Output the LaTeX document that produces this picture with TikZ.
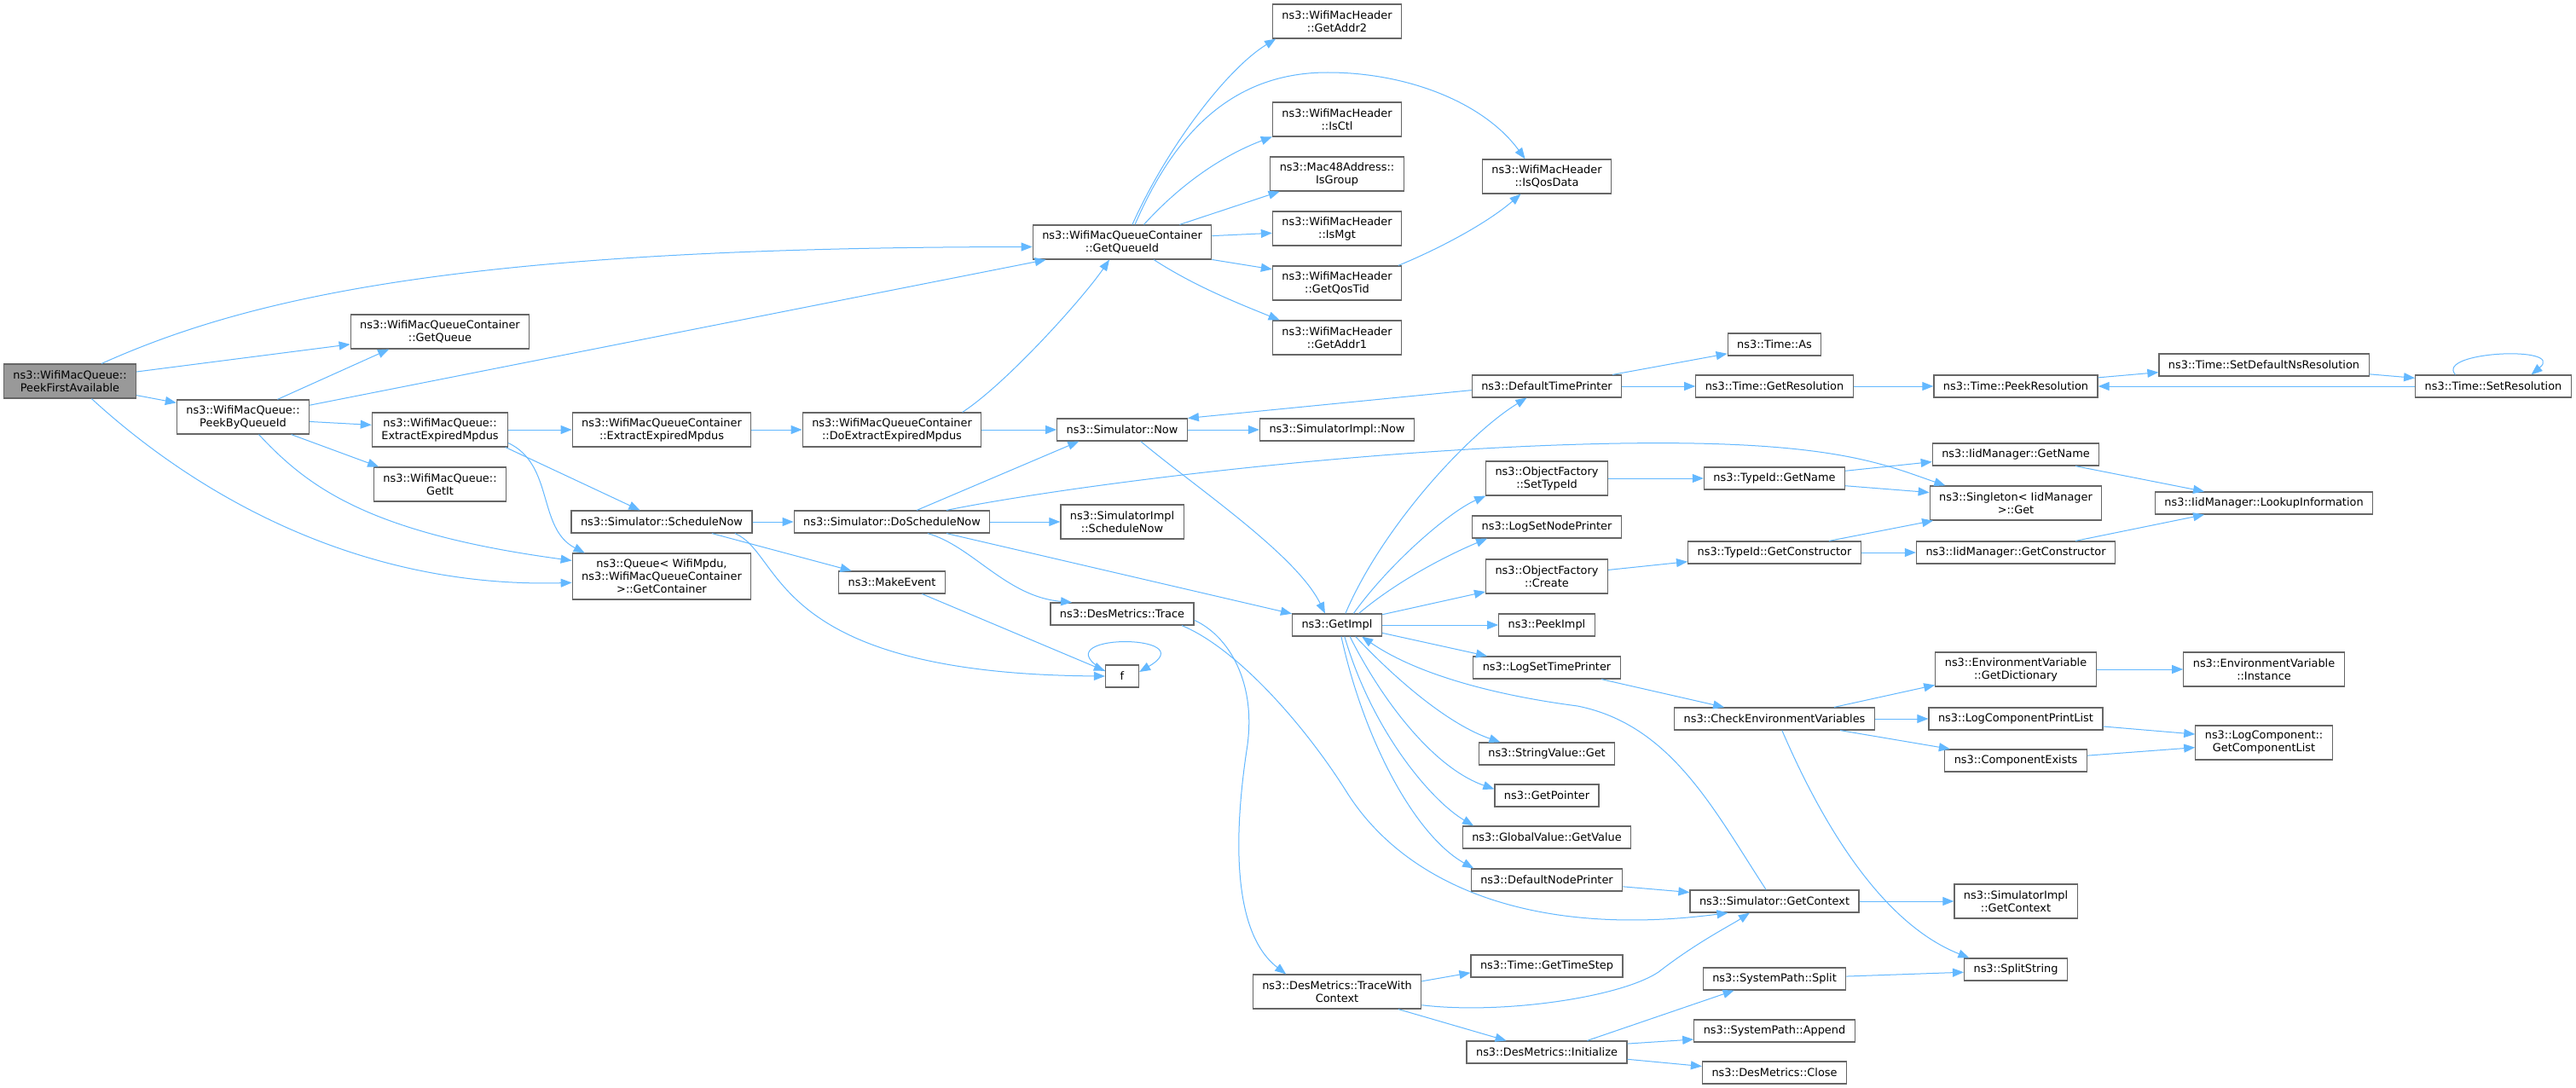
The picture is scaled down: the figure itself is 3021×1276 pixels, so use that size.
\documentclass[tikz,border=0pt]{standalone}
\usepackage{fontspec}
\newfontfamily\dejavu{DejaVu Sans}
\usetikzlibrary{arrows.meta}
\definecolor{callblue}{HTML}{63B8FF}
\definecolor{boxgray}{HTML}{666666}
\definecolor{rootgray}{HTML}{999999}

\begin{document}
\begin{tikzpicture}[x=1pt,y=-1pt,
  fn/.style={draw=boxgray,line width=1.2pt,fill=white,align=center,inner xsep=11pt,inner ysep=0pt,
    minimum width=39pt,minimum height=26pt,font=\dejavu\fontsize{12.9pt}{15pt}\selectfont},
  two/.style={fn,minimum height=40pt},
  three/.style={fn,minimum height=54pt},
  call/.style={draw=callblue,line width=1pt,-{Triangle[length=13pt,width=10pt]}}]
  \fill[white] (0,0) rectangle (3021,1276);
  \useasboundingbox (0,0) rectangle (3021,1276);

  \node[two,fill=rootgray] (pfa) at (82,447) {ns3::WifiMacQueue::\\PeekFirstAvailable};
  \node[two] (pbq) at (285,489) {ns3::WifiMacQueue::\\PeekByQueueId};
  \node[two] (gq) at (516,389) {ns3::WifiMacQueueContainer\\::GetQueue};
  \node[two] (wex) at (516,504) {ns3::WifiMacQueue::\\ExtractExpiredMpdus};
  \node[two] (getit) at (516,568) {ns3::WifiMacQueue::\\GetIt};
  \node[two] (cex) at (776,504) {ns3::WifiMacQueueContainer\\::ExtractExpiredMpdus};
  \node[fn] (sn) at (776,612) {ns3::Simulator::ScheduleNow};
  \node[three] (gcont) at (776,676) {ns3::Queue< WifiMpdu,\\ns3::WifiMacQueueContainer\\>::GetContainer};
  \node[two] (dex) at (1046,504) {ns3::WifiMacQueueContainer\\::DoExtractExpiredMpdus};
  \node[fn] (dsn) at (1046,612) {ns3::Simulator::DoScheduleNow};
  \node[fn] (me) at (1046,683) {ns3::MakeEvent};
  \node[two] (gqi) at (1316,284) {ns3::WifiMacQueueContainer\\::GetQueueId};
  \node[fn] (snow) at (1316,504) {ns3::Simulator::Now};
  \node[two] (sisn) at (1316,612) {ns3::SimulatorImpl\\::ScheduleNow};
  \node[fn] (dmt) at (1316,720) {ns3::DesMetrics::Trace};
  \node[fn] (f) at (1316,793) {f};
  \node[two] (ga2) at (1568,25) {ns3::WifiMacHeader\\::GetAddr2};
  \node[two] (ictl) at (1568,140) {ns3::WifiMacHeader\\::IsCtl};
  \node[two] (igrp) at (1568,204) {ns3::Mac48Address::\\IsGroup};
  \node[two] (imgt) at (1568,268) {ns3::WifiMacHeader\\::IsMgt};
  \node[two] (gqt) at (1568,332) {ns3::WifiMacHeader\\::GetQosTid};
  \node[two] (ga1) at (1568,396) {ns3::WifiMacHeader\\::GetAddr1};
  \node[fn] (sinow) at (1568,504) {ns3::SimulatorImpl::Now};
  \node[fn] (gi) at (1568,733) {ns3::GetImpl};
  \node[two] (twc) at (1568,1163) {ns3::DesMetrics::TraceWith\\Context};
  \node[two] (iqd) at (1814,207) {ns3::WifiMacHeader\\::IsQosData};
  \node[fn] (dtp) at (1814,453) {ns3::DefaultTimePrinter};
  \node[two] (ofst) at (1814,561) {ns3::ObjectFactory\\::SetTypeId};
  \node[fn] (lsnp) at (1814,618) {ns3::LogSetNodePrinter};
  \node[two] (ofc) at (1814,676) {ns3::ObjectFactory\\::Create};
  \node[fn] (pkimpl) at (1814,733) {ns3::PeekImpl};
  \node[fn] (lstp) at (1814,783) {ns3::LogSetTimePrinter};
  \node[fn] (svg) at (1814,884) {ns3::StringValue::Get};
  \node[fn] (gp) at (1814,933) {ns3::GetPointer};
  \node[fn] (gvgv) at (1814,982) {ns3::GlobalValue::GetValue};
  \node[fn] (dnp) at (1814,1032) {ns3::DefaultNodePrinter};
  \node[fn] (tgts) at (1814,1133) {ns3::Time::GetTimeStep};
  \node[fn] (dmi) at (1814,1234) {ns3::DesMetrics::Initialize};
  \node[fn] (tas) at (2081,404) {ns3::Time::As};
  \node[fn] (tgr) at (2081,453) {ns3::Time::GetResolution};
  \node[fn] (tgn) at (2081,561) {ns3::TypeId::GetName};
  \node[fn] (tgc) at (2081,648) {ns3::TypeId::GetConstructor};
  \node[fn] (cev) at (2081,843) {ns3::CheckEnvironmentVariables};
  \node[fn] (sgc) at (2081,1057) {ns3::Simulator::GetContext};
  \node[fn] (sps) at (2081,1148) {ns3::SystemPath::Split};
  \node[fn] (spa) at (2081,1209) {ns3::SystemPath::Append};
  \node[fn] (dmc) at (2081,1258) {ns3::DesMetrics::Close};
  \node[fn] (tpr) at (2364,453) {ns3::Time::PeekResolution};
  \node[fn] (ign) at (2364,533) {ns3::IidManager::GetName};
  \node[two] (sgt) at (2364,590) {ns3::Singleton< IidManager\\>::Get};
  \node[fn] (igc) at (2364,648) {ns3::IidManager::GetConstructor};
  \node[two] (egd) at (2364,785) {ns3::EnvironmentVariable\\::GetDictionary};
  \node[fn] (lcpl) at (2364,843) {ns3::LogComponentPrintList};
  \node[fn] (ce) at (2364,892) {ns3::ComponentExists};
  \node[two] (sigc) at (2364,1057) {ns3::SimulatorImpl\\::GetContext};
  \node[fn] (ss) at (2364,1137) {ns3::SplitString};
  \node[fn] (sdnr) at (2655,428) {ns3::Time::SetDefaultNsResolution};
  \node[fn] (li) at (2655,590) {ns3::IidManager::LookupInformation};
  \node[two] (ei) at (2655,785) {ns3::EnvironmentVariable\\::Instance};
  \node[two] (gcl) at (2655,871) {ns3::LogComponent::\\GetComponentList};
  \node[fn] (tsr) at (2924,453) {ns3::Time::SetResolution};

  \draw[call] (pfa.29) .. controls (300,345) and (560,290) .. (gqi.183);
  \draw[call] (pfa.8) -- (gq.188);
  \draw[call] (pfa.-12) -- (pbq.168);
  \draw[call] (pfa.-39) .. controls (230,580) and (420,690) .. (gcont.184);
  \draw[call] (pbq.27) -- (gq.199);
  \draw[call] (pbq.10) -- (gqi.193);
  \draw[call] (pbq.-4) -- (wex.176);
  \draw[call] (pbq.-20) -- (getit.164);
  \draw[call] (pbq.-48) .. controls (360,570) and (430,625) .. (gcont.170);
  \draw[call] (wex) -- (cex);
  \draw[call] (wex.-15) -- (sn.152);
  \draw[call] (wex.-11) .. controls (650,545) and (630,620) .. (gcont.163);
  \draw[call] (cex) -- (dex);
  \draw[call] (dex.14) .. controls (1180,450) and (1270,350) .. (gqi.234);
  \draw[call] (dex) -- (snow);
  \draw[call] (sn) -- (dsn);
  \draw[call] (sn.-13) -- (me.164);
  \draw[call] (sn.-9) .. controls (920,650) and (900,790) .. (f.west);
  \draw[call] (me.-21) -- (f.163);
  \draw[call] (f.163) .. controls (1215,742) and (1415,742) .. (f.14);
  \draw[call] (dsn.25) -- (snow.195);
  \draw[call] (dsn.12) .. controls (1250,570) and (1600,525) .. (1900,520)
    .. controls (2150,516) and (2210,545) .. (sgt.166);
  \draw[call] (dsn) -- (sisn);
  \draw[call] (dsn.-18) .. controls (1140,640) and (1180,700) .. (dmt.167);
  \draw[call] (dsn.-12) -- (gi.166);
  \draw[call] (snow) -- (sinow);
  \draw[call] (snow.-32) .. controls (1400,570) and (1520,650) .. (gi.136);
  \draw[call] (dmt.-5) .. controls (1440,745) and (1475,800) .. (1462,880)
    .. controls (1450,960) and (1440,1090) .. (twc.161);
  \draw[call] (dmt.-11) .. controls (1450,760) and (1530,850) .. (1580,930)
    .. controls (1650,1040) and (1800,1100) .. (sgc.194);
  \draw[call] (gi.54) .. controls (1620,620) and (1720,510) .. (dtp.210);
  \draw[call] (gi.35) .. controls (1630,660) and (1700,600) .. (ofst.196);
  \draw[call] (gi.28) .. controls (1640,680) and (1700,650) .. (lsnp.191);
  \draw[call] (gi.13) -- (ofc.194);
  \draw[call] (gi) -- (pkimpl);
  \draw[call] (gi.-10) -- (lstp.169);
  \draw[call] (gi.-32) .. controls (1640,800) and (1700,850) .. (svg.166);
  \draw[call] (gi.-42) .. controls (1620,820) and (1680,900) .. (gp.173);
  \draw[call] (gi.-57) .. controls (1610,860) and (1680,940) .. (gvgv.171);
  \draw[call] (gi.-70) .. controls (1600,870) and (1660,980) .. (dnp.171);
  \draw[call] (sgc.126) .. controls (2010,950) and (1960,850) .. (1850,828)
    .. controls (1750,815) and (1660,790) .. (gi.-25);
  \draw[call] (dtp.10) -- (tas.191);
  \draw[call] (dtp) -- (tgr);
  \draw[call] (dtp.183) -- (snow.10);
  \draw[call] (tgr) -- (tpr);
  \draw[call] (tpr.6) -- (sdnr.184);
  \draw[call] (sdnr.-5) -- (tsr.174);
  \draw[call] (tsr) -- (tpr);
  \draw[call] (tsr.163) .. controls (2855,412) and (3010,405) .. (tsr.17);
  \draw[call] (ofst) -- (tgn);
  \draw[call] (tgn.6) -- (ign.185);
  \draw[call] (tgn.-6) -- (sgt.173);
  \draw[call] (ign.-11) -- (li.169);
  \draw[call] (ofc.6) -- (tgc.186);
  \draw[call] (tgc.12) -- (sgt.192);
  \draw[call] (tgc) -- (igc);
  \draw[call] (igc.11) -- (li.191);
  \draw[call] (lstp.-12) -- (cev.167);
  \draw[call] (cev.11) -- (egd.191);
  \draw[call] (cev) -- (lcpl);
  \draw[call] (cev.-10) -- (ce.170);
  \draw[call] (cev.-57) .. controls (2130,950) and (2200,1080) .. (ss.166);
  \draw[call] (egd) -- (ei);
  \draw[call] (lcpl.-5) -- (gcl.173);
  \draw[call] (ce.4) -- (gcl.184);
  \draw[call] (dnp.-5) -- (sgc.174);
  \draw[call] (sgc) -- (sigc);
  \draw[call] (twc.7) -- (tgts.185);
  \draw[call] (twc.-9) .. controls (1760,1190) and (1900,1170) .. (1945,1140)
    .. controls (1990,1105) and (2030,1085) .. (sgc.205);
  \draw[call] (twc.-16) -- (dmi.164);
  \draw[call] (dmi.16) -- (sps.196);
  \draw[call] (dmi.6) -- (spa.186);
  \draw[call] (dmi.-5) -- (dmc.175);
  \draw[call] (sps.2) -- (ss.183);
  \draw[call] (gqi.60) .. controls (1370,170) and (1440,80) .. (ga2.196);
  \draw[call] (gqi.54) .. controls (1380,150) and (1450,85) .. (1557,85)
    .. controls (1650,85) and (1740,120) .. (iqd.141);
  \draw[call] (gqi.39) .. controls (1390,210) and (1440,180) .. (ictl.195);
  \draw[call] (gqi.17) -- (igrp.197);
  \draw[call] (gqi.4) -- (imgt.184);
  \draw[call] (gqi.-11) -- (gqt.168);
  \draw[call] (gqi.-29) .. controls (1400,335) and (1450,355) .. (ga1.163);
  \draw[call] (gqt.16) .. controls (1680,295) and (1740,265) .. (iqd.214);
\end{tikzpicture}
\end{document}
